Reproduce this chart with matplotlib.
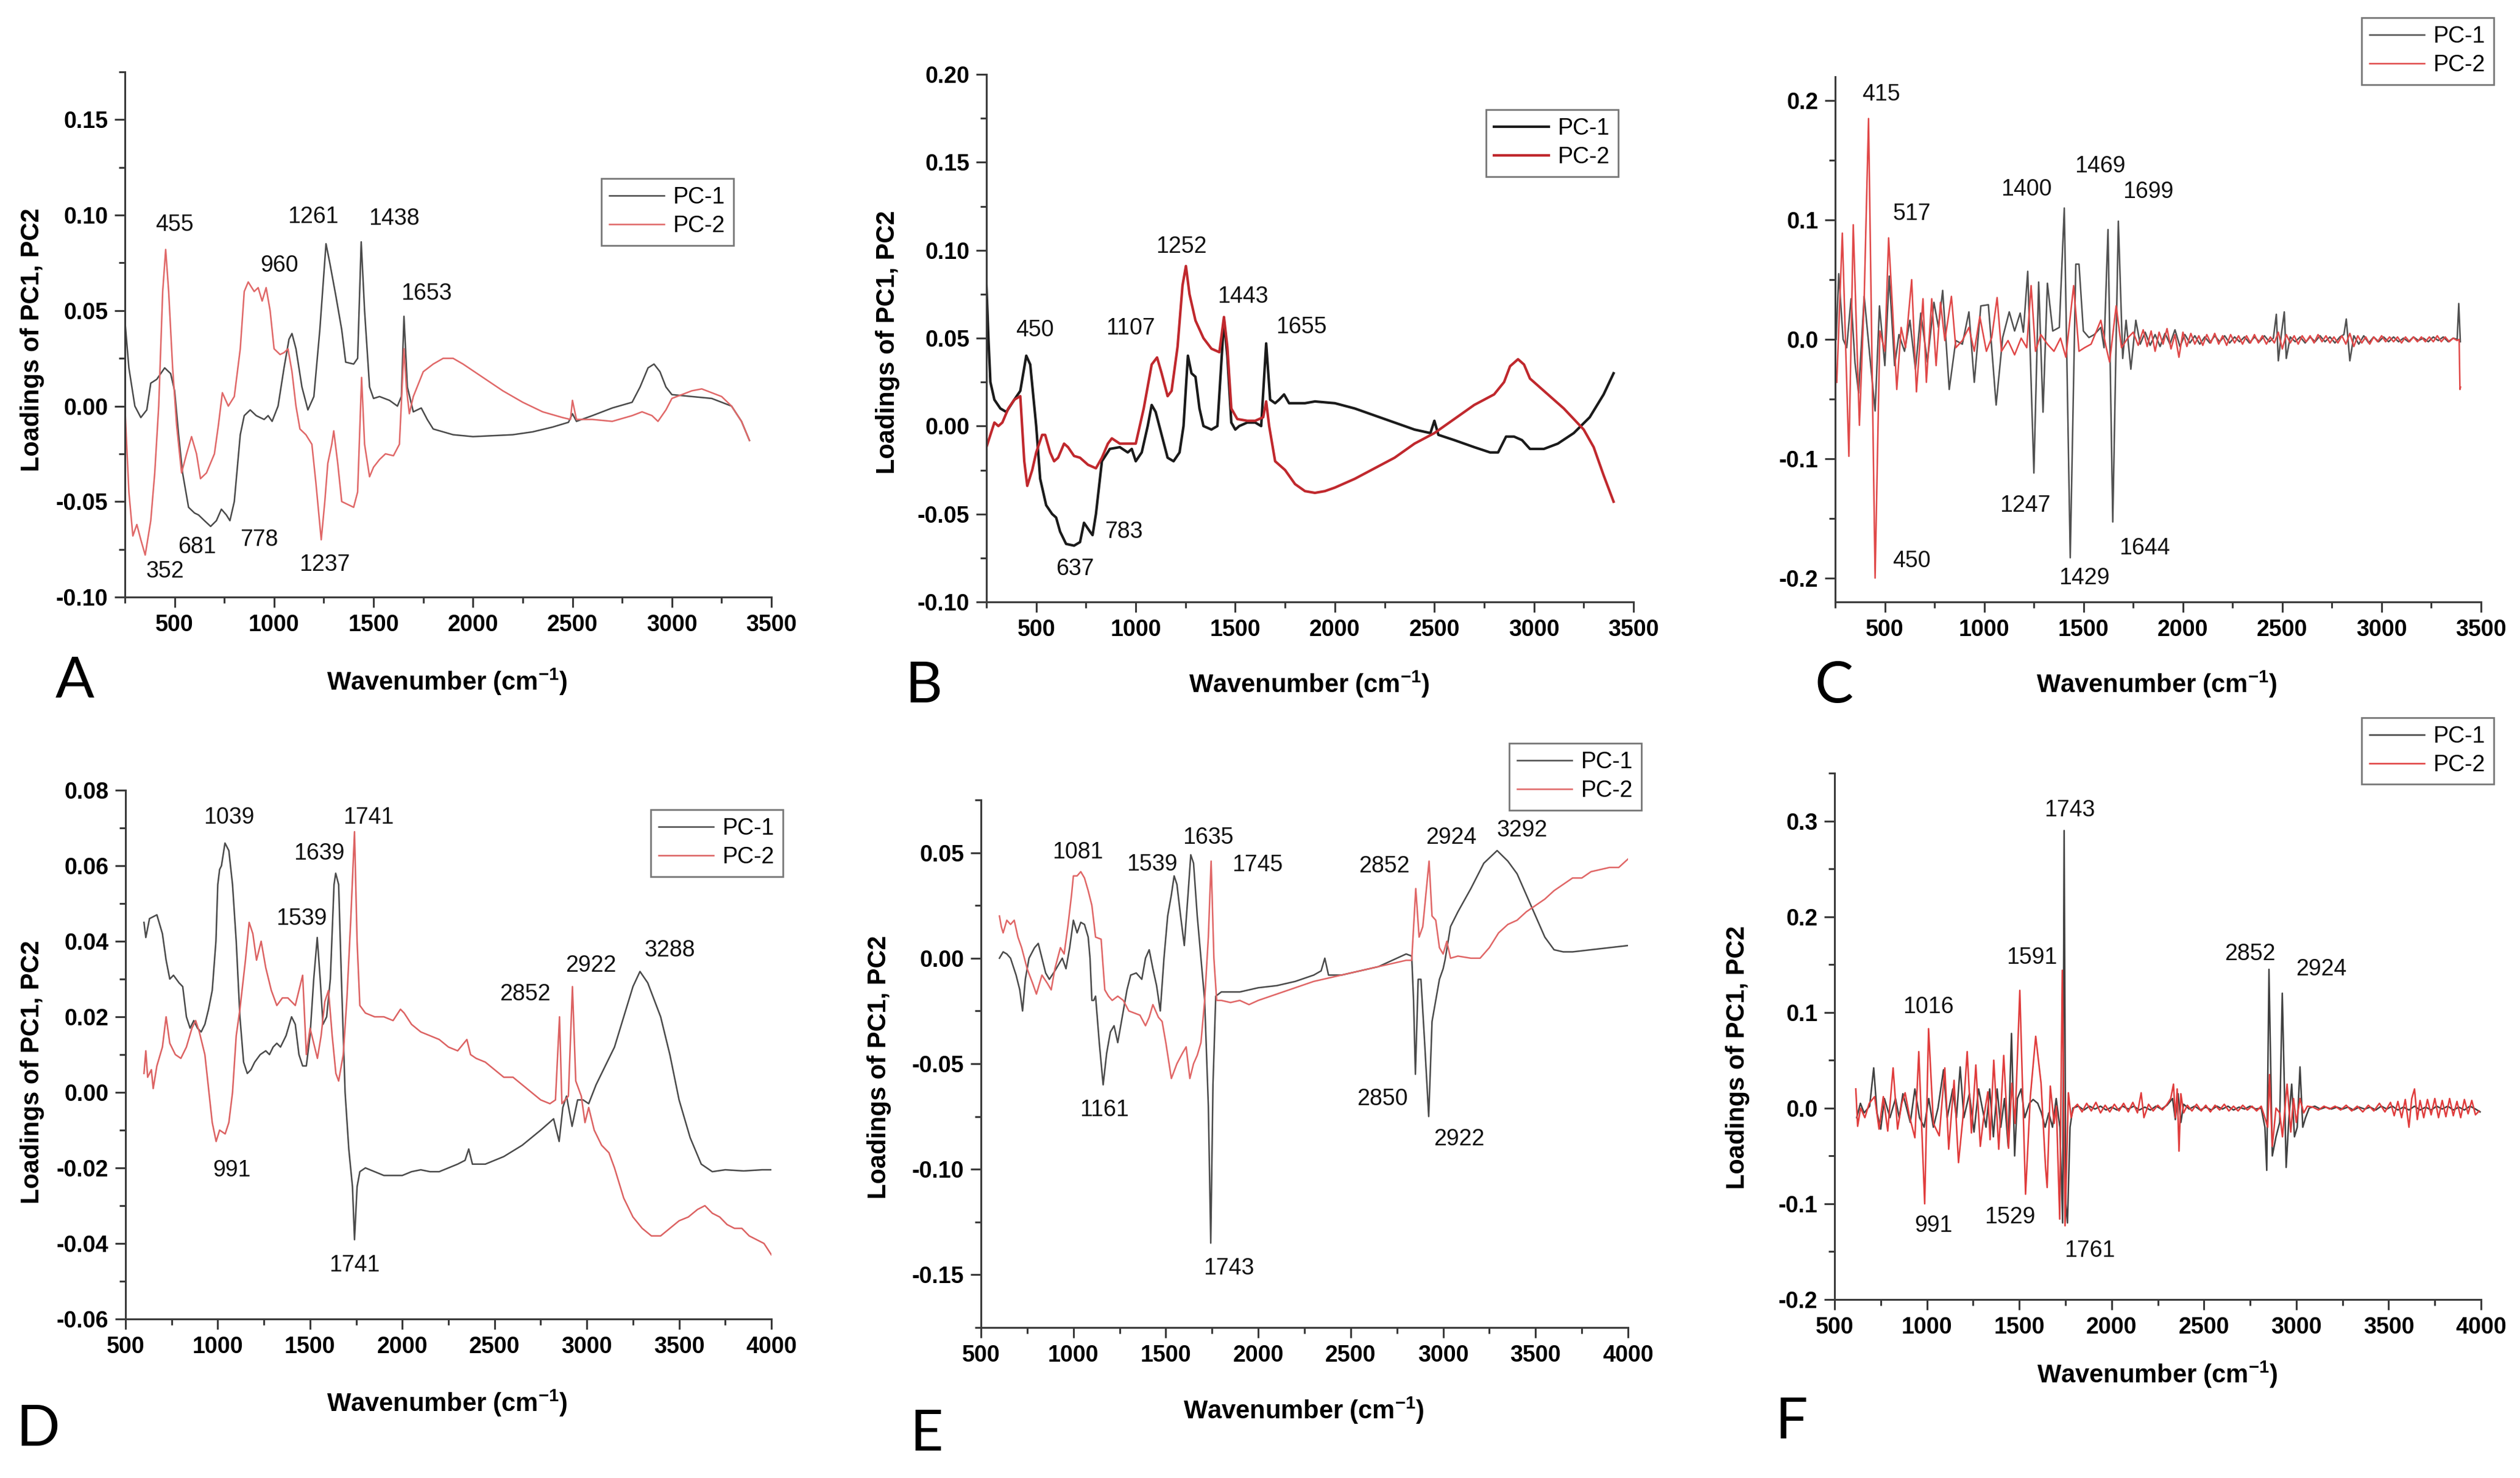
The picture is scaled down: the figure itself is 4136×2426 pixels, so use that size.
import matplotlib
matplotlib.use('Agg')
import matplotlib.pyplot as plt
from matplotlib.ticker import MultipleLocator, FormatStrFormatter

plt.rcParams['font.family'] = 'Liberation Sans'
plt.rcParams['font.weight'] = 'bold'
plt.rcParams['axes.unicode_minus'] = False
plt.rcParams['mathtext.default'] = 'regular'

#################  DATA  #################

# panel A
a_wn1 = [250, 270, 300, 330, 360, 380, 410, 450, 480, 500,
         520, 540, 570, 600, 620, 650, 681, 710, 735, 760,
         778, 800, 830, 850, 880, 910, 930, 950, 970, 990,
         1020, 1050, 1075, 1090, 1110, 1140, 1170, 1200, 1230, 1261,
         1280, 1310, 1340, 1360, 1400, 1420, 1438, 1455, 1480, 1500,
         1530, 1580, 1620, 1640, 1653, 1670, 1700, 1740, 1770, 1800,
         1900, 2000, 2100, 2200, 2300, 2400, 2480, 2500, 2520, 2600,
         2700, 2800, 2840, 2880, 2910, 2940, 2970, 3000, 3100, 3200,
         3300, 3350, 3390]
a_pc1 = [0.045, 0.02, 0.0, -0.006, -0.002, 0.012, 0.014, 0.02, 0.017, 0.008,
         -0.015, -0.035, -0.053, -0.056, -0.057, -0.06, -0.063, -0.06, -0.054, -0.057,
         -0.06, -0.05, -0.015, -0.005, -0.002, -0.005, -0.006, -0.007, -0.005, -0.008,
         0.0, 0.02, 0.035, 0.038, 0.03, 0.01, -0.002, 0.005, 0.04, 0.085,
         0.075, 0.058, 0.04, 0.023, 0.022, 0.025, 0.086, 0.05, 0.01, 0.004,
         0.005, 0.003, 0.0, 0.005, 0.047, 0.01, -0.003, -0.001, -0.007, -0.012,
         -0.015, -0.016, -0.0155, -0.015, -0.0135, -0.011, -0.0085, -0.004, -0.008, -0.005,
         -0.001, 0.002, 0.01, 0.02, 0.022, 0.018, 0.01, 0.006, 0.005, 0.004,
         0.0, -0.008, -0.018]
a_wn2 = [250, 270, 290, 310, 330, 352, 380, 400, 420, 440,
         455, 470, 490, 510, 535, 560, 585, 610, 630, 660,
         700, 720, 740, 770, 800, 830, 850, 870, 900, 920,
         940, 960, 980, 1000, 1030, 1050, 1070, 1090, 1110, 1130,
         1160, 1190, 1210, 1237, 1255, 1270, 1290, 1300, 1320, 1340,
         1380, 1400, 1420, 1440, 1455, 1480, 1500, 1530, 1560, 1600,
         1630, 1653, 1665, 1680, 1700, 1750, 1800, 1850, 1900, 1950,
         2050, 2150, 2250, 2350, 2450, 2490, 2500, 2520, 2600, 2700,
         2800, 2850, 2900, 2930, 2970, 3000, 3100, 3150, 3250, 3300,
         3350, 3390]
a_pc2 = [0.0, -0.045, -0.068, -0.062, -0.07, -0.078, -0.06, -0.035, 0.0, 0.06,
         0.082, 0.06, 0.02, -0.01, -0.035, -0.025, -0.016, -0.025, -0.038, -0.035,
         -0.025, -0.01, 0.007, 0.0, 0.005, 0.03, 0.06, 0.065, 0.06, 0.062,
         0.055, 0.062, 0.05, 0.03, 0.027, 0.028, 0.03, 0.018, 0.0, -0.012,
         -0.015, -0.02, -0.04, -0.07, -0.05, -0.03, -0.02, -0.013, -0.03, -0.05,
         -0.052, -0.053, -0.045, 0.015, -0.02, -0.037, -0.032, -0.028, -0.025, -0.026,
         -0.02, 0.03, 0.01, -0.004, 0.005, 0.018, 0.022, 0.025, 0.025, 0.022,
         0.015, 0.008, 0.002, -0.003, -0.006, -0.007, 0.003, -0.007, -0.007, -0.008,
         -0.005, -0.003, -0.005, -0.008, -0.002, 0.004, 0.008, 0.009, 0.005, 0.0,
         -0.008, -0.018]

# panel B
b_wn1 = [250, 260, 270, 290, 320, 350, 390, 420, 450, 470,
         500, 520, 550, 580, 600, 620, 650, 690, 720, 740,
         770, 783, 800, 830, 870, 920, 960, 980, 1000, 1030,
         1060, 1080, 1100, 1130, 1160, 1190, 1220, 1240, 1262, 1280,
         1300, 1320, 1340, 1380, 1410, 1443, 1460, 1480, 1500, 1520,
         1560, 1600, 1630, 1655, 1675, 1700, 1720, 1745, 1770, 1850,
         1900, 2000, 2100, 2200, 2300, 2400, 2480, 2500, 2520, 2600,
         2700, 2780, 2820, 2860, 2900, 2940, 2980, 3050, 3120, 3200,
         3280, 3350, 3400]
b_pc1 = [0.08, 0.05, 0.025, 0.015, 0.01, 0.008, 0.015, 0.02, 0.04, 0.035,
         0.0, -0.03, -0.045, -0.05, -0.052, -0.06, -0.067, -0.068, -0.066, -0.055,
         -0.06, -0.062, -0.05, -0.02, -0.013, -0.012, -0.015, -0.013, -0.02, -0.015,
         0.0, 0.012, 0.008, -0.005, -0.018, -0.02, -0.015, 0.0, 0.04, 0.03,
         0.028, 0.01, 0.0, -0.002, 0.0, 0.06, 0.04, 0.002, -0.002, 0.0,
         0.002, 0.002, 0.0, 0.047, 0.015, 0.013, 0.015, 0.018, 0.013, 0.013,
         0.014, 0.013, 0.01, 0.006, 0.002, -0.002, -0.004, 0.003, -0.005, -0.008,
         -0.012, -0.015, -0.015, -0.006, -0.006, -0.008, -0.013, -0.013, -0.01, -0.004,
         0.005, 0.018, 0.03]
b_wn2 = [250, 270, 290, 310, 330, 360, 390, 420, 440, 455,
         480, 500, 530, 545, 570, 590, 610, 640, 660, 690,
         720, 760, 800, 830, 860, 880, 920, 960, 1000, 1040,
         1080, 1107, 1130, 1160, 1180, 1210, 1235, 1252, 1270, 1300,
         1340, 1380, 1420, 1443, 1460, 1480, 1510, 1560, 1600, 1640,
         1655, 1670, 1700, 1750, 1800, 1850, 1900, 1950, 2000, 2100,
         2200, 2300, 2400, 2500, 2600, 2700, 2800, 2850, 2880, 2920,
         2950, 2980, 3050, 3150, 3250, 3300, 3350, 3400]
b_pc2 = [-0.012, -0.005, 0.002, 0.0, 0.002, 0.01, 0.015, 0.017, -0.02, -0.034,
         -0.025, -0.015, -0.005, -0.005, -0.015, -0.02, -0.018, -0.01, -0.012, -0.017,
         -0.018, -0.022, -0.024, -0.018, -0.01, -0.007, -0.01, -0.01, -0.01, 0.01,
         0.035, 0.039, 0.03, 0.017, 0.02, 0.045, 0.08, 0.091, 0.075, 0.06,
         0.05, 0.044, 0.042, 0.062, 0.045, 0.01, 0.004, 0.003, 0.003, 0.005,
         0.014, 0.0, -0.02, -0.025, -0.033, -0.037, -0.038, -0.037, -0.035, -0.03,
         -0.024, -0.018, -0.01, -0.004, 0.004, 0.012, 0.018, 0.025, 0.034, 0.038,
         0.035, 0.027, 0.02, 0.01, -0.002, -0.012, -0.028, -0.043]

# panel C
c_wn1 = [255, 268, 290, 308, 330, 350, 368, 396, 429, 451,
         473, 500, 522, 549, 571, 599, 626, 654, 681, 714,
         747, 770, 791, 824, 857, 890, 923, 950, 983, 1021,
         1060, 1093, 1126, 1153, 1181, 1197, 1219, 1250, 1274, 1296,
         1318, 1345, 1378, 1403, 1433, 1461, 1477, 1499, 1527, 1554,
         1587, 1603, 1623, 1647, 1675, 1697, 1714, 1738, 1763, 1785,
         1810, 1835, 1860, 1885, 1910, 1935, 1960, 1985, 2010, 2035,
         2060, 2085, 2110, 2135, 2160, 2185, 2210, 2235, 2260, 2285,
         2310, 2335, 2360, 2385, 2410, 2435, 2455, 2470, 2480, 2495,
         2510, 2520, 2540, 2565, 2590, 2615, 2640, 2665, 2690, 2715,
         2740, 2765, 2790, 2810, 2822, 2840, 2860, 2885, 2910, 2935,
         2960, 2985, 3010, 3035, 3060, 3085, 3110, 3135, 3160, 3185,
         3210, 3235, 3260, 3285, 3310, 3335, 3360, 3380, 3388, 3396]
c_pc1 = [0.0, 0.055, 0.0, -0.007, 0.034, -0.02, -0.045, 0.036, -0.022, -0.06,
         0.028, -0.022, 0.053, -0.022, 0.004, -0.01, 0.016, -0.025, 0.022, -0.019,
         0.031, 0.01, 0.041, -0.042, -0.001, -0.004, 0.023, -0.036, 0.028, 0.029,
         -0.055, 0.0015, 0.023, 0.007, 0.022, 0.006, 0.057, -0.112, 0.048, -0.061,
         0.047, 0.007, 0.01, 0.11, -0.183, 0.063, 0.063, 0.007, 0.0015, 0.004,
         0.01, -0.007, 0.092, -0.153, 0.099, -0.016, 0.016, -0.025, 0.016, -0.004,
         0.006, -0.005, 0.004, -0.006, 0.005, -0.004, 0.008, -0.006, 0.004, -0.003,
         0.003, -0.004, 0.002, -0.003, 0.003, -0.002, 0.003, -0.003, 0.002, -0.002,
         0.002, -0.003, 0.002, -0.002, 0.003, -0.002, 0.001, 0.021, -0.018, 0.004,
         0.023, -0.016, 0.002, -0.002, 0.002, -0.003, 0.002, -0.002, 0.003, -0.002,
         0.002, -0.003, 0.002, 0.004, 0.017, -0.018, 0.003, -0.004, 0.003, -0.003,
         0.002, -0.002, 0.002, -0.002, 0.002, -0.002, 0.001, -0.002, 0.002, -0.001,
         0.001, -0.002, 0.002, -0.001, 0.002, -0.002, 0.001, 0.0, 0.03, -0.002]
c_wn2 = [258, 286, 319, 341, 372, 396, 418, 451, 475, 500,
         519, 538, 560, 582, 604, 635, 659, 692, 709, 736,
         758, 780, 802, 835, 857, 890, 923, 950, 978, 1011,
         1038, 1065, 1087, 1120, 1153, 1186, 1214, 1236, 1258, 1285,
         1318, 1351, 1384, 1411, 1450, 1477, 1505, 1538, 1587, 1614,
         1631, 1664, 1691, 1724, 1750, 1775, 1800, 1820, 1840, 1860,
         1880, 1900, 1920, 1940, 1960, 1980, 2000, 2020, 2040, 2060,
         2080, 2100, 2120, 2140, 2160, 2180, 2200, 2220, 2240, 2260,
         2280, 2300, 2320, 2340, 2360, 2380, 2400, 2420, 2440, 2460,
         2480, 2500, 2520, 2540, 2560, 2580, 2600, 2620, 2640, 2660,
         2680, 2700, 2720, 2740, 2760, 2780, 2800, 2820, 2840, 2860,
         2880, 2900, 2920, 2940, 2960, 2980, 3000, 3020, 3040, 3060,
         3080, 3100, 3120, 3140, 3160, 3180, 3200, 3220, 3240, 3260,
         3280, 3300, 3320, 3340, 3360, 3380, 3390, 3394, 3397]
c_pc2 = [-0.036, 0.089, -0.098, 0.096, -0.072, 0.034, 0.185, -0.20, 0.007, -0.01,
         0.085, 0.028, -0.042, 0.01, -0.007, 0.05, -0.044, 0.034, -0.036, 0.034,
         -0.022, 0.031, -0.001, 0.036, -0.007, -0.001, 0.01, -0.01, 0.019, -0.01,
         0.0015, 0.035, -0.01, -0.001, -0.013, 0.001, -0.007, 0.045, -0.01, 0.004,
         -0.004, -0.01, 0.001, -0.015, 0.045, -0.01, -0.007, -0.004, 0.016, -0.007,
         -0.019, 0.028, -0.007, 0.0015, 0.006, -0.005, 0.008, -0.006, 0.007, -0.01,
         0.006, -0.004, 0.009, -0.008, 0.004, -0.015, 0.006, -0.006, 0.005, -0.004,
         0.003, -0.005, 0.004, -0.003, 0.005, -0.004, 0.003, -0.005, 0.004, -0.003,
         0.003, -0.004, 0.003, -0.003, 0.004, -0.003, 0.003, -0.004, 0.002, -0.003,
         0.006, -0.008, 0.004, -0.003, 0.003, -0.004, 0.003, -0.002, 0.003, -0.003,
         0.004, -0.002, 0.003, -0.003, 0.002, -0.003, 0.003, -0.004, 0.005, -0.006,
         0.003, -0.003, 0.002, -0.004, 0.002, -0.002, 0.003, -0.002, 0.002, -0.002,
         0.002, -0.003, 0.002, -0.002, 0.002, -0.002, 0.002, -0.002, 0.002, -0.002,
         0.003, -0.002, 0.002, -0.002, 0.001, -0.001, 0.0, -0.042, -0.04]

# panel D
d_wn1 = [600, 610, 630, 670, 700, 720, 740, 760, 790, 810,
         830, 850, 870, 890, 910, 930, 950, 970, 990, 1000,
         1010, 1020, 1039, 1060, 1080, 1100, 1120, 1140, 1160, 1180,
         1200, 1230, 1260, 1280, 1300, 1320, 1340, 1370, 1400, 1420,
         1440, 1460, 1480, 1500, 1520, 1539, 1555, 1570, 1590, 1610,
         1630, 1639, 1655, 1670, 1690, 1710, 1730, 1741, 1755, 1770,
         1800, 1850, 1900, 1950, 2000, 2050, 2100, 2150, 2200, 2250,
         2300, 2340, 2360, 2380, 2450, 2550, 2650, 2750, 2820, 2850,
         2870, 2890, 2920, 2950, 2980, 3010, 3050, 3100, 3150, 3200,
         3250, 3288, 3330, 3400, 3450, 3500, 3560, 3620, 3680, 3750,
         3850, 3950, 4000]
d_pc1 = [0.045, 0.041, 0.046, 0.047, 0.042, 0.035, 0.03, 0.031, 0.029, 0.028,
         0.02, 0.017, 0.019, 0.017, 0.016, 0.018, 0.022, 0.027, 0.04, 0.055,
         0.059, 0.06, 0.066, 0.064, 0.055, 0.04, 0.02, 0.008, 0.005, 0.006,
         0.008, 0.01, 0.011, 0.01, 0.012, 0.013, 0.012, 0.015, 0.02, 0.018,
         0.01, 0.007, 0.007, 0.015, 0.03, 0.041, 0.03, 0.018, 0.02, 0.03,
         0.055, 0.058, 0.055, 0.03, 0.0, -0.015, -0.025, -0.039, -0.025, -0.021,
         -0.02, -0.021, -0.022, -0.022, -0.022, -0.021, -0.0205, -0.021, -0.021, -0.02,
         -0.019, -0.018, -0.015, -0.019, -0.019, -0.017, -0.014, -0.01, -0.007, -0.013,
         -0.004, -0.001, -0.009, -0.002, -0.002, -0.003, 0.002, 0.007, 0.012, 0.02,
         0.028, 0.032, 0.029, 0.02, 0.01, -0.002, -0.012, -0.019, -0.021, -0.0205,
         -0.0208, -0.0205, -0.0205]
d_wn2 = [600, 610, 620, 640, 650, 670, 700, 720, 740, 770,
         800, 830, 860, 880, 900, 930, 950, 970, 991, 1010,
         1040, 1060, 1080, 1100, 1120, 1150, 1170, 1190, 1210, 1235,
         1260, 1290, 1320, 1350, 1380, 1420, 1440, 1460, 1480, 1500,
         1520, 1540, 1560, 1580, 1600, 1620, 1640, 1655, 1680, 1700,
         1720, 1741, 1755, 1770, 1800, 1850, 1900, 1950, 1990, 2010,
         2050, 2100, 2150, 2200, 2250, 2300, 2350, 2370, 2400, 2450,
         2500, 2550, 2600, 2650, 2700, 2750, 2800, 2830, 2852, 2865,
         2900, 2922, 2940, 2970, 2990, 3010, 3040, 3080, 3120, 3150,
         3200, 3250, 3300, 3350, 3400, 3450, 3500, 3550, 3600, 3640,
         3680, 3720, 3760, 3800, 3840, 3880, 3920, 3960, 4000]
d_pc2 = [0.005, 0.011, 0.004, 0.006, 0.001, 0.007, 0.012, 0.02, 0.013, 0.01,
         0.009, 0.012, 0.017, 0.019, 0.016, 0.01, 0.001, -0.008, -0.013, -0.01,
         -0.011, -0.008, 0.0, 0.015, 0.022, 0.035, 0.045, 0.042, 0.035, 0.04,
         0.033, 0.027, 0.023, 0.025, 0.025, 0.023, 0.027, 0.031, 0.01, 0.017,
         0.013, 0.009, 0.015, 0.024, 0.027, 0.015, 0.005, 0.003, 0.01, 0.025,
         0.045, 0.069, 0.04, 0.023, 0.021, 0.02, 0.02, 0.019, 0.022, 0.021,
         0.018, 0.016, 0.015, 0.014, 0.012, 0.011, 0.014, 0.01, 0.009, 0.008,
         0.006, 0.004, 0.004, 0.002, 0.0, -0.002, -0.003, -0.002, 0.02, -0.003,
         -0.001, 0.028, 0.003, -0.001, -0.008, -0.004, -0.01, -0.014, -0.016, -0.02,
         -0.028, -0.033, -0.036, -0.038, -0.038, -0.036, -0.034, -0.033, -0.031, -0.03,
         -0.032, -0.033, -0.035, -0.036, -0.036, -0.038, -0.039, -0.04, -0.043]

# panel E
e_wn1 = [600, 620, 640, 660, 690, 710, 725, 740, 760, 790,
         810, 830, 850, 870, 900, 920, 940, 960, 980, 1000,
         1020, 1040, 1060, 1080, 1090, 1100, 1110, 1120, 1140, 1161,
         1180, 1200, 1220, 1240, 1260, 1290, 1310, 1340, 1370, 1390,
         1410, 1430, 1450, 1470, 1490, 1510, 1530, 1545, 1560, 1580,
         1600, 1620, 1635, 1650, 1670, 1690, 1710, 1730, 1743, 1755,
         1770, 1800, 1900, 2000, 2100, 2200, 2300, 2340, 2360, 2380,
         2450, 2550, 2650, 2750, 2800, 2830, 2840, 2850, 2865, 2880,
         2900, 2922, 2940, 2960, 2980, 3000, 3010, 3040, 3080, 3150,
         3220, 3292, 3350, 3400, 3450, 3500, 3550, 3600, 3650, 3700,
         3800, 3900, 4000]
e_pc1 = [0.0, 0.003, 0.002, 0.0, -0.008, -0.015, -0.025, -0.01, 0.0, 0.005,
         0.007, 0.0, -0.007, -0.01, -0.006, -0.003, 0.0, -0.005, 0.005, 0.018,
         0.012, 0.017, 0.016, 0.01, 0.0, -0.02, -0.02, -0.018, -0.04, -0.06,
         -0.045, -0.035, -0.032, -0.04, -0.03, -0.015, -0.008, -0.007, -0.01, 0.0,
         0.004, -0.005, -0.013, -0.025, 0.0, 0.02, 0.03, 0.039, 0.035, 0.02,
         0.006, 0.03, 0.049, 0.045, 0.02, 0.0, -0.02, -0.07, -0.135, -0.06,
         -0.018, -0.016, -0.016, -0.014, -0.013, -0.011, -0.008, -0.006, 0.0, -0.008,
         -0.008, -0.006, -0.004, 0.0, 0.002, 0.001, -0.02, -0.055, -0.01, -0.01,
         -0.04, -0.075, -0.03, -0.02, -0.01, -0.005, -0.001, 0.015, 0.022, 0.033,
         0.045, 0.051, 0.046, 0.04, 0.03, 0.02, 0.01, 0.004, 0.003, 0.003,
         0.004, 0.005, 0.006]
e_wn2 = [600, 610, 620, 640, 660, 680, 700, 720, 750, 780,
         800, 830, 860, 880, 900, 930, 950, 970, 990, 1000,
         1020, 1040, 1060, 1080, 1100, 1120, 1150, 1170, 1190, 1210,
         1240, 1270, 1300, 1330, 1360, 1390, 1410, 1430, 1460, 1480,
         1500, 1530, 1560, 1590, 1610, 1630, 1650, 1670, 1690, 1710,
         1730, 1745, 1760, 1775, 1800, 1850, 1900, 1950, 2000, 2100,
         2200, 2300, 2400, 2500, 2600, 2700, 2800, 2830, 2852, 2870,
         2890, 2924, 2940, 2960, 2980, 3000, 3020, 3040, 3080, 3150,
         3200, 3250, 3300, 3350, 3400, 3450, 3500, 3550, 3600, 3650,
         3700, 3750, 3800, 3850, 3900, 3950, 4000]
e_pc2 = [0.02, 0.015, 0.012, 0.018, 0.016, 0.018, 0.01, 0.005, -0.005, -0.012,
         -0.017, -0.008, -0.012, -0.015, -0.005, 0.005, 0.002, 0.015, 0.03, 0.039,
         0.039, 0.041, 0.038, 0.032, 0.025, 0.01, 0.009, -0.015, -0.018, -0.02,
         -0.018, -0.02, -0.025, -0.026, -0.027, -0.032, -0.028, -0.022, -0.028, -0.03,
         -0.04, -0.057, -0.05, -0.045, -0.042, -0.057, -0.05, -0.046, -0.04, -0.02,
         0.01, 0.046, 0.0, -0.02, -0.02, -0.021, -0.02, -0.022, -0.02, -0.017,
         -0.014, -0.011, -0.009, -0.007, -0.005, -0.003, -0.001, -0.001, 0.033, 0.01,
         0.015, 0.046, 0.02, 0.018, 0.005, 0.002, 0.008, 0.0, 0.001, 0.0,
         0.0, 0.005, 0.012, 0.016, 0.018, 0.022, 0.025, 0.028, 0.032, 0.035,
         0.038, 0.038, 0.041, 0.042, 0.043, 0.043, 0.047]

# panel F
f_wn1 = [620, 640, 660, 690, 712, 730, 750, 770, 800, 830,
         850, 870, 890, 910, 935, 960, 985, 1010, 1035, 1060,
         1090, 1110, 1140, 1160, 1180, 1200, 1230, 1255, 1280, 1300,
         1320, 1340, 1360, 1380, 1400, 1420, 1440, 1458, 1475, 1490,
         1510, 1530, 1555, 1575, 1600, 1620, 1640, 1660, 1680, 1700,
         1720, 1735, 1743, 1752, 1761, 1775, 1790, 1820, 1850, 1880,
         1910, 1940, 1970, 2000, 2030, 2060, 2090, 2120, 2150, 2180,
         2210, 2240, 2270, 2300, 2330, 2345, 2360, 2375, 2390, 2420,
         2450, 2480, 2510, 2540, 2570, 2600, 2630, 2660, 2690, 2720,
         2750, 2780, 2810, 2830, 2840, 2852, 2870, 2890, 2910, 2924,
         2945, 2960, 2975, 2990, 3005, 3020, 3035, 3050, 3070, 3100,
         3130, 3160, 3190, 3220, 3250, 3280, 3310, 3340, 3370, 3400,
         3430, 3460, 3490, 3520, 3550, 3580, 3610, 3640, 3670, 3700,
         3730, 3760, 3790, 3820, 3850, 3880, 3910, 3940, 3970, 3995]
f_pc1 = [-0.01, 0.005, -0.005, 0.002, 0.042, -0.005, -0.022, 0.01, -0.01, 0.01,
         -0.01, 0.015, 0.0, -0.015, 0.02, -0.01, -0.02, 0.01, -0.02, 0.0,
         0.04, -0.01, 0.02, -0.01, 0.043, -0.01, 0.015, -0.025, 0.02, 0.0,
         -0.02, 0.02, -0.03, 0.02, -0.02, 0.01, -0.04, 0.078, -0.05, 0.01,
         0.02, -0.01, 0.005, 0.009, 0.005, -0.005, -0.02, -0.005, -0.02, 0.01,
         -0.02, -0.12, 0.29, -0.1, -0.12, -0.02, 0.0, 0.002, -0.002, 0.002,
         -0.001, 0.002, -0.002, 0.001, -0.002, 0.002, -0.001, 0.002, -0.002, 0.001,
         -0.002, 0.002, -0.001, 0.003, 0.01, -0.012, 0.015, -0.015, 0.004, -0.001,
         0.002, -0.002, 0.001, -0.002, 0.002, -0.001, 0.002, -0.002, 0.001, -0.001,
         0.002, -0.001, 0.0, -0.02, -0.065, 0.145, -0.05, -0.03, -0.015, 0.12,
         -0.062, -0.01, 0.025, -0.03, -0.02, 0.043, -0.02, -0.01, 0.0, 0.002,
         -0.001, 0.001, -0.001, 0.001, -0.001, 0.001, -0.002, 0.001, -0.001, 0.001,
         -0.002, 0.002, -0.001, 0.002, -0.002, 0.001, -0.002, 0.002, -0.002, 0.001,
         -0.002, 0.002, -0.001, 0.002, -0.002, 0.001, -0.002, 0.002, -0.001, -0.004]
f_wn2 = [615, 625, 641, 664, 688, 717, 741, 764, 788, 817,
         841, 864, 882, 906, 935, 956, 988, 1009, 1035, 1067,
         1097, 1118, 1147, 1171, 1194, 1218, 1241, 1265, 1289, 1306,
         1330, 1342, 1362, 1389, 1416, 1442, 1460, 1477, 1503, 1534,
         1560, 1589, 1618, 1642, 1651, 1668, 1689, 1701, 1719, 1733,
         1748, 1766, 1781, 1795, 1815, 1840, 1865, 1890, 1915, 1940,
         1965, 1990, 2015, 2040, 2065, 2090, 2115, 2140, 2160, 2175,
         2200, 2225, 2250, 2275, 2300, 2320, 2335, 2345, 2355, 2365,
         2375, 2390, 2410, 2435, 2460, 2485, 2510, 2535, 2560, 2585,
         2610, 2635, 2660, 2685, 2710, 2735, 2760, 2785, 2810, 2830,
         2845, 2855, 2870, 2890, 2910, 2925, 2950, 2970, 2985, 3000,
         3020, 3040, 3060, 3090, 3120, 3150, 3180, 3210, 3240, 3270,
         3300, 3330, 3360, 3390, 3420, 3450, 3480, 3510, 3530, 3550,
         3570, 3590, 3610, 3625, 3640, 3655, 3670, 3690, 3710, 3730,
         3750, 3770, 3790, 3810, 3830, 3850, 3870, 3890, 3910, 3930,
         3950, 3970, 3990]
f_pc2 = [0.02, -0.019, 0.0, -0.01, 0.005, 0.012, -0.022, 0.012, -0.024, 0.042,
         -0.022, 0.005, 0.016, -0.009, -0.031, 0.059, -0.1, 0.083, -0.016, -0.029,
         0.042, -0.043, 0.029, -0.057, -0.012, 0.059, -0.026, 0.045, -0.04, -0.012,
         0.017, -0.033, 0.05, -0.043, 0.055, -0.042, 0.026, -0.016, 0.123, -0.09,
         0.012, 0.075, 0.026, -0.061, -0.083, 0.023, -0.016, 0.002, -0.116, 0.144,
         -0.123, 0.016, -0.01, 0.0, 0.004, -0.004, 0.005, -0.003, 0.006, -0.005,
         0.003, -0.004, 0.004, -0.003, 0.005, -0.004, 0.006, -0.005, 0.016, -0.01,
         0.004, -0.003, 0.003, -0.002, 0.004, 0.01, 0.025, -0.01, 0.02, -0.045,
         0.015, -0.005, 0.003, -0.003, 0.004, -0.003, 0.003, -0.004, 0.003, -0.002,
         0.004, -0.003, 0.002, -0.003, 0.003, -0.002, 0.002, -0.003, 0.002, -0.01,
         -0.02, 0.035, -0.04, 0.0, -0.005, -0.03, 0.025, -0.025, 0.01, -0.015,
         0.01, -0.005, 0.002, 0.001, -0.002, 0.002, -0.001, 0.002, -0.002, 0.003,
         -0.003, 0.002, -0.004, 0.003, -0.003, 0.005, -0.004, 0.006, -0.008, 0.007,
         -0.01, 0.009, -0.02, 0.01, 0.02, -0.012, 0.008, -0.01, 0.009, -0.007,
         0.01, -0.01, 0.008, -0.009, 0.01, -0.008, 0.007, -0.01, 0.009, -0.006,
         0.008, -0.007, -0.003]

# peak labels (text, wavenumber, loading where the text sits)
a_peaks = [('455', 500, 0.095), ('960', 1027, 0.0735), ('1261', 1195, 0.099),
           ('1438', 1604, 0.098), ('1653', 1765, 0.059), ('352', 452, -0.0867),
           ('681', 612, -0.0738), ('778', 925, -0.070), ('1237', 1254, -0.083)]
b_peaks = [('450', 492, 0.0544), ('1107', 975, 0.0557), ('1252', 1228, 0.102),
           ('1443', 1538, 0.0737), ('1655', 1831, 0.0562), ('783', 940, -0.060),
           ('637', 696, -0.0814)]
c_peaks = [('415', 481, 0.205), ('517', 636, 0.105), ('1400', 1213, 0.1254),
           ('1469', 1583, 0.145), ('1699', 1825, 0.1235), ('450', 636, -0.186),
           ('1247', 1205, -0.1395), ('1429', 1503, -0.20), ('1644', 1806, -0.175)]
d_peaks = [('1039', 1060, 0.0728), ('1741', 1817, 0.0728), ('1639', 1548, 0.0633),
           ('1539', 1452, 0.046), ('991', 1075, -0.0206), ('1741', 1742, -0.0458),
           ('2852', 2665, 0.026), ('2922', 3022, 0.0335), ('3288', 3448, 0.0376)]
e_peaks = [('1081', 1024, 0.0503), ('1539', 1427, 0.0445), ('1635', 1728, 0.057),
           ('1745', 1995, 0.044), ('1161', 1169, -0.072), ('1743', 1841, -0.147),
           ('2852', 2681, 0.0434), ('2924', 3044, 0.057), ('3292', 3426, 0.0606),
           ('2850', 2673, -0.0668), ('2922', 3087, -0.0859)]
f_peaks = [('1016', 1007, 0.1056), ('1591', 1569, 0.157), ('1743', 1772, 0.311),
           ('2852', 2751, 0.161), ('2924', 3136, 0.145), ('991', 1036, -0.123),
           ('1529', 1450, -0.114), ('1761', 1882, -0.149)]

#################  FIGURE  #################
W, H = 4136, 2426
fig = plt.figure(figsize=(W / 100, H / 100), dpi=100)
fig.patch.set_facecolor('white')


def fx(px):
    return px / W


def fy(py):
    return 1 - py / H


def make_panel(box, xlim, ylim, ystep, yfmt, s1, s2, colors, lw, peaks,
               legend_xy, ylabel_xy, xlabel_xy, letter, letter_xy):
    l, t, r, b = box
    ax = fig.add_axes([fx(l), fy(b), (r - l) / W, (b - t) / H])
    ax.plot(s1[0], s1[1], color=colors[0], lw=lw, label='PC-1')
    ax.plot(s2[0], s2[1], color=colors[1], lw=lw, label='PC-2')
    ax.set_xlim(xlim)
    ax.set_ylim(ylim)

    # axes look (Origin style)
    for s in ['top', 'right']:
        ax.spines[s].set_visible(False)
    for s in ['left', 'bottom']:
        ax.spines[s].set_linewidth(2.2)
        ax.spines[s].set_color('#3a3a3a')
    ax.xaxis.set_major_locator(MultipleLocator(500))
    ax.xaxis.set_minor_locator(MultipleLocator(250))
    ax.yaxis.set_major_locator(MultipleLocator(ystep))
    ax.yaxis.set_minor_locator(MultipleLocator(ystep / 2))
    ax.yaxis.set_major_formatter(FormatStrFormatter(yfmt))
    ax.tick_params(which='major', direction='out', length=12, width=2.2,
                   color='#3a3a3a', labelsize=27, pad=8)
    ax.tick_params(which='minor', direction='out', length=7, width=2.2,
                   color='#3a3a3a')

    # peak labels
    for txt, x, y in peaks:
        ax.text(x, y, txt, ha='center', va='center', fontsize=27,
                fontweight='normal', color='#111111')

    # legend
    leg = ax.legend(loc='upper left', bbox_to_anchor=(fx(legend_xy[0]), fy(legend_xy[1])),
                    bbox_transform=fig.transFigure, frameon=True, fancybox=False,
                    prop={'family': 'Liberation Sans', 'weight': 'normal', 'size': 27},
                    handlelength=2.4, handletextpad=0.4, borderpad=0.35,
                    labelspacing=0.3, borderaxespad=0)
    leg.get_frame().set_edgecolor('#555555')
    leg.get_frame().set_linewidth(2)

    # axis titles and panel letter
    if ylabel_xy is not None:
        fig.text(fx(ylabel_xy[0]), fy(ylabel_xy[1]), 'Loadings of PC1, PC2',
                 rotation=90, ha='center', va='center', fontsize=30, fontweight='bold')
    fig.text(fx(xlabel_xy[0]), fy(xlabel_xy[1]), 'Wavenumber (cm$^{-1}$)',
             ha='center', va='center', fontsize=30, fontweight='bold')
    fig.text(fx(letter_xy[0]), fy(letter_xy[1]), letter, ha='center', va='center',
             fontsize=68, fontweight='normal', family='Lato')
    return ax


make_panel((205, 118, 1266, 980), (250, 3500), (-0.10, 0.175), 0.05, '%.2f',
           (a_wn1, a_pc1), (a_wn2, a_pc2), ('#4a4a4a', '#e06868'), 1.8, a_peaks,
           (987, 293), (53, 558), (734, 1119), 'A', (123, 1119))
make_panel((1619, 122, 2681, 988), (250, 3500), (-0.10, 0.20), 0.05, '%.2f',
           (b_wn1, b_pc1), (b_wn2, b_pc2), ('#1a1a1a', '#c0282d'), 3.0, b_peaks,
           (2439, 180), (1457, 562), (2149, 1123), 'B', (1516, 1127))
make_panel((3012, 126, 4072, 988), (250, 3500), (-0.22, 0.22), 0.1, '%.1f',
           (c_wn1, c_pc1), (c_wn2, c_pc2), ('#505050', '#e04848'), 1.8, c_peaks,
           (3876, 29), None, (3540, 1123), 'C', (3010, 1127))
make_panel((206, 1297, 1266, 2165), (500, 4000), (-0.06, 0.08), 0.02, '%.2f',
           (d_wn1, d_pc1), (d_wn2, d_pc2), ('#4a4a4a', '#dc6262'), 1.8, d_peaks,
           (1068, 1329), (53, 1760), (734, 2303), 'D', (62, 2347))
make_panel((1610, 1313, 2672, 2179), (500, 4000), (-0.175, 0.075), 0.05, '%.2f',
           (e_wn1, e_pc1), (e_wn2, e_pc2), ('#4a4a4a', '#e06666'), 1.8, e_peaks,
           (2477, 1220), (1443, 1752), (2140, 2315), 'E', (1521, 2355))
make_panel((3011, 1269, 4072, 2133), (500, 4000), (-0.2, 0.35), 0.1, '%.1f',
           (f_wn1, f_pc1), (f_wn2, f_pc2), ('#404040', '#e03c3c'), 1.8, f_peaks,
           (3876, 1178), (2852, 1736), (3541, 2256), 'F', (2940, 2335))

plt.savefig('out.png', dpi=100, facecolor='white')
